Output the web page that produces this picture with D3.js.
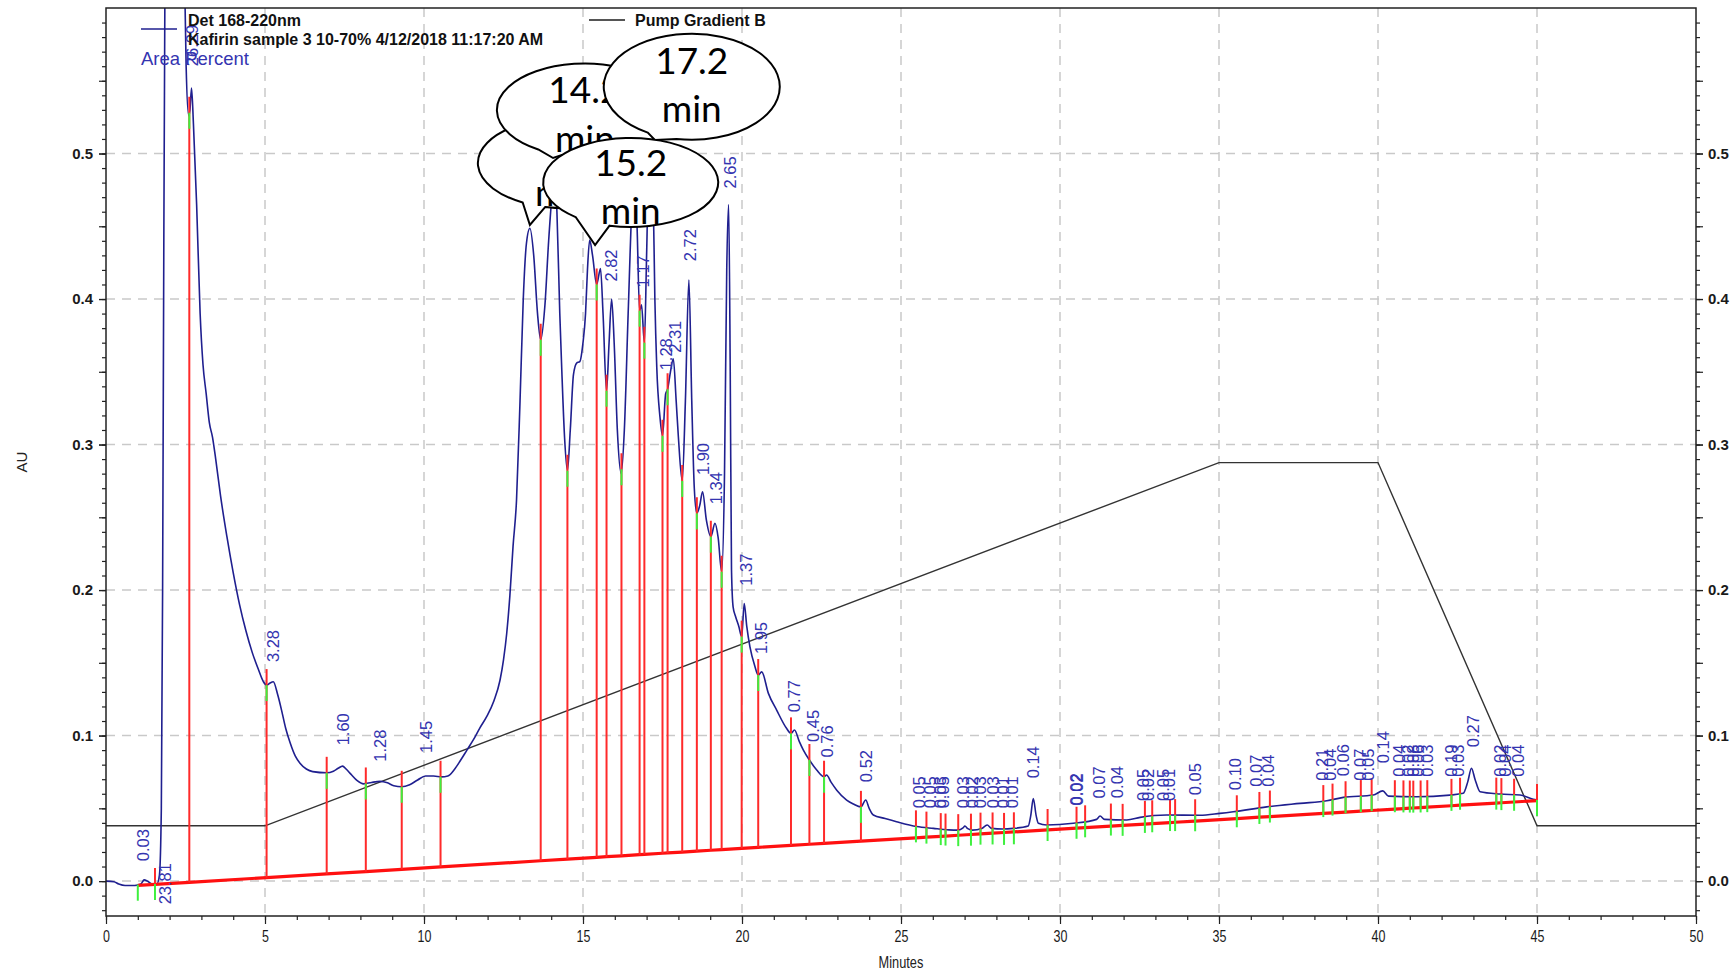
<!DOCTYPE html>
<html><head><meta charset="utf-8">
<script src="https://cdn.jsdelivr.net/npm/d3@7"></script>
<style>body{margin:0;background:#fff}svg{display:block}</style>
</head><body>
<svg id="chart" width="1731" height="972"></svg>
<script>
// ---------------- data ----------------
const traceTimes = [0,0.25,0.4,0.6,0.9,1.1,1.2,1.3,1.45,1.6,1.68,1.74,1.78,1.82,1.86,1.95,2.1,2.3,2.45,2.52,2.6,2.64,2.69,2.75,2.85,2.96,3.05,3.15,3.25,3.35,3.45,3.6,3.8,4.0,4.2,4.4,4.6,4.8,4.95,5.05,5.15,5.26,5.4,5.52,5.65,5.79,5.95,6.1,6.3,6.5,6.94,7.15,7.3,7.44,7.55,7.7,7.9,8.1,8.35,8.62,8.85,9.05,9.3,9.55,9.8,10.05,10.3,10.55,10.75,10.95,11.15,11.35,11.55,11.75,11.97,12.2,12.39,12.5,12.6,12.7,12.8,12.91,13.02,13.12,13.22,13.33,13.45,13.57,13.67,13.8,13.92,14.02,14.1,14.18,14.27,14.33,14.42,14.51,14.6,14.7,14.8,14.9,15.0,15.08,15.14,15.21,15.3,15.43,15.55,15.63,15.74,15.82,15.9,15.98,16.08,16.2,16.3,16.42,16.55,16.63,16.7,16.78,16.84,16.93,17.0,17.1,17.2,17.26,17.32,17.42,17.5,17.6,17.66,17.75,17.84,17.93,18.0,18.12,18.22,18.33,18.42,18.5,18.58,18.67,18.76,18.88,19.02,19.15,19.25,19.36,19.45,19.52,19.58,19.63,19.67,19.72,19.8,19.9,19.99,20.07,20.15,20.25,20.4,20.51,20.62,20.83,21.09,21.4,21.54,21.65,21.8,21.93,22.12,22.35,22.58,22.66,22.8,22.98,23.29,23.5,23.74,23.89,24.0,24.13,24.5,24.86,25.49,26.02,26.5,26.8,26.95,27.01,27.1,27.25,27.54,27.71,27.85,28.2,28.53,29.0,29.08,29.16,29.25,29.32,29.58,30.42,31.15,31.26,31.4,32.1,32.52,33.35,34.4,35.03,35.45,36.5,37.55,38.39,38.91,39.85,40.15,40.33,41.21,42.26,42.68,42.82,42.94,43.05,43.21,43.84,44.47,44.88,45.0];
const traceValues = [0,-0.0005,-0.002,-0.003,-0.003,-0.002,0.0008,0,-0.002,-0.002,0.004,0.05,0.2,0.45,0.65,0.9,1.0,0.9,0.65,0.56,0.526,0.53,0.545,0.52,0.465,0.39,0.355,0.335,0.315,0.305,0.29,0.265,0.237,0.212,0.19,0.172,0.157,0.145,0.137,0.1347,0.136,0.137,0.128,0.1175,0.105,0.095,0.086,0.081,0.077,0.0752,0.0744,0.0755,0.0775,0.079,0.077,0.0735,0.069,0.0668,0.0678,0.0685,0.0675,0.0655,0.0648,0.0662,0.0695,0.0722,0.0722,0.0716,0.0722,0.0765,0.083,0.09,0.097,0.105,0.113,0.124,0.138,0.152,0.17,0.196,0.23,0.262,0.33,0.399,0.438,0.4486,0.43,0.39,0.372,0.395,0.44,0.47,0.485,0.46,0.39,0.353,0.305,0.282,0.31,0.348,0.356,0.357,0.37,0.39,0.42,0.4405,0.43,0.41,0.421,0.39,0.337,0.37,0.40,0.37,0.31,0.28,0.31,0.39,0.47,0.49,0.45,0.392,0.396,0.37,0.43,0.52,0.48,0.40,0.353,0.319,0.306,0.335,0.338,0.35,0.359,0.33,0.305,0.275,0.33,0.413,0.33,0.27,0.2527,0.258,0.2676,0.248,0.2367,0.2458,0.236,0.2126,0.28,0.42,0.465,0.35,0.2137,0.1885,0.1817,0.175,0.168,0.1908,0.175,0.161,0.148,0.1416,0.1438,0.129,0.1175,0.105,0.1015,0.1038,0.096,0.09,0.0832,0.0763,0.0717,0.0729,0.068,0.0625,0.0557,0.053,0.051,0.0557,0.05,0.0454,0.043,0.0408,0.0375,0.0362,0.0352,0.035,0.0365,0.0378,0.036,0.035,0.0362,0.0385,0.0362,0.0358,0.0362,0.0378,0.045,0.0568,0.045,0.0397,0.0385,0.0397,0.0424,0.0447,0.0424,0.042,0.0438,0.0454,0.0452,0.0465,0.0476,0.051,0.0534,0.0552,0.0575,0.0591,0.062,0.0584,0.058,0.0591,0.0603,0.068,0.0775,0.07,0.0614,0.0598,0.0591,0.0562,0.0557];

const gradientTimes  = [0, 5, 35, 40, 45, 50];
const gradientValues = [0.038, 0.038, 0.2876, 0.2876, 0.038, 0.038];

const baselineTimes  = [1.0, 10, 20, 30, 45];
const baselineValues = [-0.003, 0.009, 0.0225, 0.0357, 0.0553];

const dropTimes = [1.54,2.62,5.05,6.94,8.17,9.30,10.52,13.67,14.51,15.43,15.74,16.21,16.78,16.93,17.5,17.66,18.12,18.58,19.02,19.36,19.99,20.51,21.54,22.12,22.58,23.74,25.47,25.8,26.25,26.4,26.8,27.2,27.5,27.88,28.24,28.55,29.61,30.52,30.79,31.6,31.97,32.67,32.9,33.46,33.62,34.25,35.56,36.27,36.6,38.28,38.57,38.98,39.46,39.8,40.53,40.8,41.0,41.11,41.34,41.55,42.31,42.58,43.72,43.88,44.28,45.0];

const labelTimes = [1.18,1.86,2.72,5.26,7.44,8.62,10.07,15.87,16.88,17.6,17.88,18.37,18.78,19.17,19.62,20.14,20.6,21.63,22.22,22.67,23.89,25.58,25.91,26.23,26.33,26.96,27.22,27.48,27.9,28.22,28.48,29.16,30.52,30.54,31.24,31.78,32.62,32.78,33.25,33.44,34.24,35.5,36.18,36.55,38.23,38.49,38.91,39.43,39.7,40.17,40.67,40.95,41.11,41.27,41.53,42.29,42.52,42.98,43.84,44.0,44.41];
const labelTexts = ["0.03","23.81","26.29","3.28","1.60","1.28","1.45","2.82","1.17","1.28","2.31","2.72","1.90","1.34","2.65","1.37","1.95","0.77","0.45","0.76","0.52","0.05","0.05","0.03","0.05","0.03","0.02","0.03","0.03","0.01","0.01","0.14","0.02","0.02","0.07","0.04","0.05","0.02","0.05","0.01","0.05","0.10","0.07","0.04","0.21","0.04","0.06","0.07","0.05","0.14","0.04","0.02","0.08","0.06","0.03","0.19","0.03","0.27","0.02","0.04","0.04"];
const labelBases = [0.0137,-0.016,0.56,0.1505,0.0933,0.082,0.088,0.412,0.408,0.351,0.363,0.426,0.279,0.259,0.476,0.203,0.156,0.116,0.0956,0.085,0.068,0.05,0.05,0.05,0.05,0.05,0.05,0.05,0.05,0.05,0.05,0.0706,0.052,0.052,0.0568,0.057,0.055,0.055,0.055,0.055,0.059,0.0625,0.0648,0.0648,0.069,0.069,0.072,0.069,0.069,0.081,0.0717,0.0717,0.0717,0.0717,0.0717,0.0717,0.0717,0.092,0.0717,0.0717,0.0717];

// call-out bubbles (back to front)
const calloutNumbers      = ["13.3", "14.2", "17.2", "15.2"];
const calloutCenterTimes  = [14.43, 15.06, 18.42, 16.50];
const calloutCenterValues = [0.4934, 0.5299, 0.5459, 0.4801];
const calloutTipTimes     = [13.33, 14.06, 17.26, 15.38];
const calloutTipValues    = [0.4509, 0.4969, 0.5093, 0.4371];

const xTickValues = d3.range(0, 51, 5);
const yTickValues = [0, 0.1, 0.2, 0.3, 0.4, 0.5];

// ---------------- layout ----------------
const L = 106, R = 1696, T = 8, B = 916;
const svg = d3.select("#chart");
const x = d3.scaleLinear().domain([0, 50]).range([L, R]);
const y = d3.scaleLinear().domain([-0.024, 0.6]).range([B, T]);
const FONT = "Liberation Sans, Arial, sans-serif";

svg.append("defs").append("clipPath").attr("id", "plotClip")
  .append("rect").attr("x", L).attr("y", T).attr("width", R - L).attr("height", B - T);

// grid
const grid = svg.append("g");
grid.selectAll("line.v").data(xTickValues.filter(d => d > 0 && d < 50)).join("line")
  .attr("x1", d => x(d)).attr("x2", d => x(d)).attr("y1", T).attr("y2", B)
  .attr("stroke", "#c9c9c9").attr("stroke-width", 1.5).attr("stroke-dasharray", "9,7");
grid.selectAll("line.h").data(yTickValues).join("line")
  .attr("x1", L).attr("x2", R).attr("y1", d => y(d)).attr("y2", d => y(d))
  .attr("stroke", "#c9c9c9").attr("stroke-width", 1.5).attr("stroke-dasharray", "9,7");

const plot = svg.append("g").attr("clip-path", "url(#plotClip)");

// pump gradient
const gradData = gradientTimes.map((t, i) => [t, gradientValues[i]]);
plot.append("path").datum(gradData)
  .attr("d", d3.line().x(d => x(d[0])).y(d => y(d[1])))
  .attr("fill", "none").attr("stroke", "#333").attr("stroke-width", 1.4);

// chromatogram trace
const traceData = traceTimes.map((t, i) => [t, traceValues[i]]);
plot.append("path").datum(traceData)
  .attr("d", d3.line().x(d => x(d[0])).y(d => y(d[1])).curve(d3.curveMonotoneX))
  .attr("fill", "none").attr("stroke", "#1f1f8f").attr("stroke-width", 1.6);

const traceAt = d3.scaleLinear().domain(traceTimes).range(traceValues);
const baseAt = d3.scaleLinear().domain(baselineTimes).range(baselineValues);

// integration baseline
const baseData = [baselineTimes[0]].concat(dropTimes).map(t => [t, baseAt(t)]);
plot.append("path").datum(baseData)
  .attr("d", d3.line().x(d => x(d[0])).y(d => y(d[1])))
  .attr("fill", "none").attr("stroke", "#ff1010").attr("stroke-width", 3.2);

// drop lines
plot.selectAll("line.drop").data(dropTimes).join("line")
  .attr("x1", d => x(d)).attr("x2", d => x(d))
  .attr("y1", d => y(baseAt(d))).attr("y2", d => y(traceAt(d)) - 16)
  .attr("stroke", "#ff2a2a").attr("stroke-width", 2);
plot.selectAll("line.green").data([baselineTimes[0]].concat(dropTimes)).join("line")
  .attr("x1", d => x(d)).attr("x2", d => x(d))
  .attr("y1", d => y(traceAt(d))).attr("y2", d => y(traceAt(d)) + 16)
  .attr("stroke", "#3ef03e").attr("stroke-width", 2);

// peak labels
svg.append("g").selectAll("text").data(labelTimes).join("text")
  .attr("transform", (d, i) => `translate(${x(d)},${y(labelBases[i])}) rotate(-90)`)
  .attr("dy", "0.36em")
  .attr("font-family", FONT).attr("font-size", 16.5)
  .attr("fill", "#3434b0")
  .text((d, i) => labelTexts[i]);

// axes
function styleAxis(g) {
  g.select(".domain").remove();
  g.selectAll("line").attr("stroke", "#222").attr("stroke-width", 1.2);
  g.selectAll("text").attr("font-family", FONT)
    .attr("font-weight", "bold").attr("font-size", 15).attr("fill", "#1a1a1a");
}
const yMinor = d3.range(-2, 60).map(i => i / 100);
const yMid = d3.range(0, 60, 5).map(i => i / 100);
svg.append("g").attr("transform", `translate(${L},0)`)
  .call(d3.axisLeft(y).tickValues(yMinor).tickSize(4).tickFormat("")).call(styleAxis);
svg.append("g").attr("transform", `translate(${L},0)`)
  .call(d3.axisLeft(y).tickValues(yMid).tickSize(7).tickFormat("")).call(styleAxis);
svg.append("g").attr("transform", `translate(${L},0)`)
  .call(d3.axisLeft(y).tickValues(yTickValues).tickSize(7).tickPadding(6).tickFormat(d3.format(".1f"))).call(styleAxis);
svg.append("g").attr("transform", `translate(${R},0)`)
  .call(d3.axisRight(y).tickValues(yMinor).tickSize(4).tickFormat("")).call(styleAxis);
svg.append("g").attr("transform", `translate(${R},0)`)
  .call(d3.axisRight(y).tickValues(yMid).tickSize(7).tickFormat("")).call(styleAxis);
svg.append("g").attr("transform", `translate(${R},0)`)
  .call(d3.axisRight(y).tickValues(yTickValues).tickSize(7).tickPadding(5).tickFormat(d3.format(".1f"))).call(styleAxis);

svg.append("g").attr("transform", `translate(0,${B})`)
  .call(d3.axisBottom(x).tickValues(d3.range(0, 51)).tickSize(4).tickFormat("")).call(styleAxis);
const xAx = svg.append("g").attr("transform", `translate(0,${B})`)
  .call(d3.axisBottom(x).tickValues(xTickValues).tickSize(8).tickPadding(7).tickFormat(d3.format("d"))).call(styleAxis);
xAx.selectAll("text").attr("font-weight", "normal").attr("font-size", 16)
  .style("transform-box", "fill-box").style("transform-origin", "center").style("transform", "scaleX(0.78)");

// frame
svg.append("rect").attr("x", L).attr("y", T).attr("width", R - L).attr("height", B - T)
  .attr("fill", "none").attr("stroke", "#222").attr("stroke-width", 1.5);

// axis titles
svg.append("text").attr("transform", `translate(22,${(T + B) / 2}) rotate(-90)`)
  .attr("text-anchor", "middle").attr("dy", "0.35em")
  .attr("font-family", FONT).attr("font-size", 15).attr("fill", "#222")
  .text("AU");
svg.append("text").attr("x", (L + R) / 2).attr("y", 962).attr("text-anchor", "middle").attr("dy", "0.35em")
  .attr("font-family", FONT).attr("font-size", 16).attr("fill", "#222")
  .style("transform-box", "fill-box").style("transform-origin", "center").style("transform", "scaleX(0.8)")
  .text("Minutes");

// legend
const lg = svg.append("g").attr("font-family", FONT);
lg.append("line").attr("x1", 141).attr("x2", 177).attr("y1", 29).attr("y2", 29)
  .attr("stroke", "#1f1f8f").attr("stroke-width", 1.6);
lg.append("text").attr("x", 188).attr("y", 26).attr("font-size", 16).attr("font-weight", "bold").attr("fill", "#111").text("Det 168-220nm");
lg.append("text").attr("x", 188).attr("y", 45).attr("font-size", 16).attr("font-weight", "bold").attr("fill", "#111").text("Kafirin sample 3 10-70% 4/12/2018 11:17:20 AM");
lg.append("text").attr("x", 141).attr("y", 65).attr("font-size", 18.5).attr("fill", "#3434b0").text("Area Percent");
lg.append("line").attr("x1", 589).attr("x2", 625).attr("y1", 20).attr("y2", 20)
  .attr("stroke", "#555").attr("stroke-width", 2);
lg.append("text").attr("x", 635).attr("y", 26).attr("font-size", 16).attr("font-weight", "bold").attr("fill", "#111").text("Pump Gradient B");

// call-out bubbles
const bubbleStyle = [
  {rx: 87, ry: 45, a1: 119, a2: 103, numDy: -6, minDy: 43, showNum: false},
  {rx: 88, ry: 46.5, a1: 122, a2: 105, numDy: -7, minDy: 42, showNum: true},
  {rx: 88, ry: 53, a1: 120, a2: 100, numDy: -13, minDy: 35, showNum: true},
  {rx: 87.5, ry: 44.5, a1: 129, a2: 104, numDy: -6, minDy: 42, showNum: true}
];
const rad = Math.PI / 180;
const bubbles = svg.append("g");
calloutNumbers.forEach((num, i) => {
  const s = bubbleStyle[i];
  const cx = x(calloutCenterTimes[i]), cy = y(calloutCenterValues[i]);
  const tx = x(calloutTipTimes[i]), ty = y(calloutTipValues[i]);
  const p1 = [cx + s.rx * Math.cos(s.a1 * rad), cy + s.ry * Math.sin(s.a1 * rad)];
  const p2 = [cx + s.rx * Math.cos(s.a2 * rad), cy + s.ry * Math.sin(s.a2 * rad)];
  const g = bubbles.append("g");
  g.append("path")
    .attr("d", `M${p2[0]},${p2[1]} L${tx},${ty} L${p1[0]},${p1[1]} A${s.rx},${s.ry} 0 1 1 ${p2[0]},${p2[1]} Z`)
    .attr("fill", "#fff").attr("stroke", "#000").attr("stroke-width", 2).attr("stroke-linejoin", "miter");
  if (s.showNum) {
    g.append("text").attr("x", cx).attr("y", cy + s.numDy).attr("text-anchor", "middle")
      .attr("font-family", "Lato, Open Sans, sans-serif").attr("font-size", 37).attr("fill", "#000").text(num);
  }
  g.append("text").attr("x", cx).attr("y", cy + s.minDy).attr("text-anchor", "middle")
    .attr("font-family", "Lato, Open Sans, sans-serif").attr("font-size", 37).attr("fill", "#000").text("min");
});
</script>
</body></html>
